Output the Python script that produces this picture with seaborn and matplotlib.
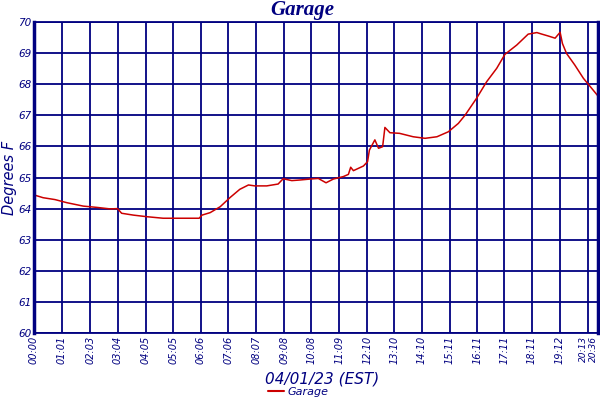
import matplotlib
matplotlib.use("Agg")
import matplotlib.pyplot as plt
import pandas as pd
import seaborn as sns

# minutes since midnight and temperature (F)
minutes = [0, 20, 46, 72, 108, 137, 167, 183, 192, 218, 247, 283, 342, 362,
           368, 386, 408, 430, 451, 470, 484, 510, 535, 546, 565, 583, 605,
           623, 640, 656, 678, 689, 694, 700, 722, 731, 735, 747, 755, 764,
           769, 780, 801, 831, 857, 883, 908, 930, 945, 970, 992, 1014, 1032,
           1058, 1083, 1102, 1113, 1127, 1142, 1153, 1158, 1167, 1185, 1204,
           1222, 1236]
temps = [64.44, 64.35, 64.29, 64.19, 64.08, 64.04, 63.99, 64.0, 63.85, 63.79,
         63.74, 63.69, 63.69, 63.69, 63.79, 63.87, 64.06, 64.36, 64.62, 64.76,
         64.73, 64.73, 64.79, 64.96, 64.90, 64.92, 64.95, 64.97, 64.83, 64.95,
         65.03, 65.10, 65.33, 65.22, 65.37, 65.51, 65.88, 66.21, 65.94, 65.99,
         66.61, 66.44, 66.42, 66.31, 66.26, 66.31, 66.47, 66.74, 67.01, 67.55,
         68.08, 68.51, 68.96, 69.26, 69.61, 69.66, 69.61, 69.55, 69.48, 69.67,
         69.31, 68.99, 68.62, 68.19, 67.87, 67.62]

tick_minutes = [0, 61, 123, 184, 245, 305, 366, 426, 487, 548, 608, 669, 730,
                790, 850, 911, 971, 1031, 1091, 1152, 1213, 1236]
tick_labels = ["00:00", "01:01", "02:03", "03:04", "04:05", "05:05", "06:06",
               "07:06", "08:07", "09:08", "10:08", "11:09", "12:10", "13:10",
               "14:10", "15:11", "16:11", "17:11", "18:11", "19:12", "20:13",
               "20:36"]
y_ticks = [60, 61, 62, 63, 64, 65, 66, 67, 68, 69, 70]

NAVY = "#000080"
RED = "#cc0000"

sns.set_style("white")
plt.rcParams["font.family"] = ["DejaVu Sans"]

df = pd.DataFrame({"minute": minutes, "temp": temps, "series": "Garage"})

fig = plt.figure(figsize=(6, 4), dpi=100)
ax = fig.add_axes([34 / 600, 1 - 333 / 400, 564 / 600, 311 / 400])

sns.lineplot(data=df, x="minute", y="temp", hue="series",
             palette=[RED], linewidth=1.1, ax=ax, legend=False)

ax.set_xlim(0, 1236)
ax.set_ylim(60, 70)
ax.set_xticks(tick_minutes)
ax.set_xticklabels(tick_labels, rotation=90, fontsize=7, style="italic",
                   color=NAVY)
# the last two ticks sit close together, nudge their labels apart
for lab in ax.get_xticklabels()[-2:]:
    lab.set_fontsize(6.5)
    lab.set_horizontalalignment("right")
ax.set_yticks(y_ticks)
ax.set_yticklabels([str(v) for v in y_ticks], fontsize=7.5, style="italic",
                   color=NAVY)
ax.tick_params(length=0, pad=2)
ax.grid(True, color=NAVY, linewidth=1.3)
ax.set_axisbelow(True)
for side, sp in ax.spines.items():
    sp.set_visible(True)
    sp.set_color(NAVY)
    sp.set_linewidth(1.3)
ax.spines["left"].set_linewidth(2.5)
ax.spines["right"].set_linewidth(2.5)

ax.set_xlabel("04/01/23 (EST)", fontsize=11, style="italic", color=NAVY)
ax.xaxis.set_label_coords(0.51, -0.125)
ax.set_ylabel("Degrees F", fontsize=10.5, style="italic", color=NAVY)
ax.yaxis.set_label_coords(-0.031, 0.5)
fig.text(0.503, 0.975, "Garage", ha="center", va="center", fontsize=15,
         style="italic", weight="bold", family="Liberation Serif", color=NAVY)

handle = plt.Line2D([], [], color=RED, linewidth=1.5)
fig.legend([handle], ["Garage"], loc="center", bbox_to_anchor=(0.497, 0.02),
           frameon=False, handlelength=1.5, handletextpad=0.3,
           prop={"style": "italic", "size": 8}, labelcolor=NAVY)

fig.savefig("out.png", dpi=100)
